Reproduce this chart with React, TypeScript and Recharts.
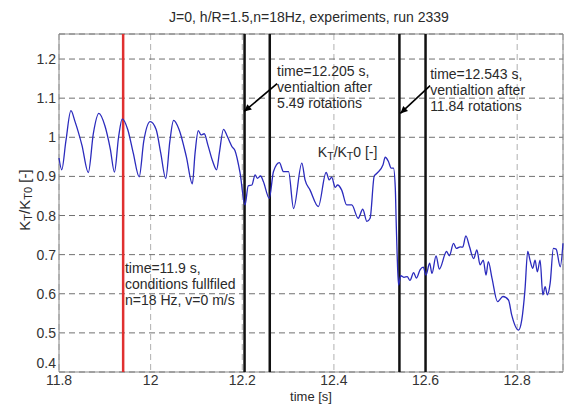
import React from 'react';
import { LineChart, Line, XAxis, YAxis, CartesianGrid, ReferenceLine, ReferenceArea, ReferenceDot, Customized } from 'recharts';

// ── KT/KT0 thrust ratio, run 2339

const TIME = [
  11.800, 11.806, 11.815, 11.826, 11.835, 11.850, 11.864, 11.875, 11.887, 11.900,
  11.912, 11.921, 11.930, 11.938, 11.950, 11.962, 11.975, 11.985, 11.999, 12.012,
  12.022, 12.033, 12.042, 12.050, 12.062, 12.078, 12.091, 12.097, 12.104, 12.110,
  12.117, 12.125, 12.135, 12.144, 12.150, 12.159, 12.166, 12.172, 12.177, 12.184,
  12.195, 12.206, 12.213, 12.221, 12.228, 12.233, 12.240, 12.246, 12.259, 12.268,
  12.281, 12.290, 12.301, 12.312, 12.330, 12.337, 12.348, 12.366, 12.383, 12.390,
  12.395, 12.403, 12.408, 12.417, 12.428, 12.439, 12.453, 12.463, 12.472, 12.479,
  12.488, 12.494, 12.507, 12.512, 12.519, 12.525, 12.530, 12.534, 12.536, 12.538,
  12.541, 12.546, 12.553, 12.560, 12.566, 12.574, 12.580, 12.588, 12.595, 12.601,
  12.609, 12.614, 12.623, 12.630, 12.646, 12.652, 12.661, 12.667, 12.676, 12.681,
  12.688, 12.696, 12.705, 12.712, 12.719, 12.726, 12.732, 12.737, 12.745, 12.757,
  12.769, 12.781, 12.788, 12.803, 12.810, 12.817, 12.823, 12.828, 12.834, 12.839,
  12.844, 12.850, 12.856, 12.861, 12.866, 12.872, 12.879, 12.885, 12.894, 12.900,
];

const KT = [
  0.947, 0.917, 0.990, 1.068, 1.040, 0.980, 0.910, 1.010, 1.061, 1.030,
  0.970, 0.911, 1.000, 1.047, 1.020, 0.960, 0.899, 0.990, 1.040, 1.020,
  0.960, 0.895, 0.990, 1.043, 1.020, 0.950, 0.881, 0.960, 1.017, 1.006,
  1.009, 0.980, 0.940, 0.917, 0.960, 1.020, 1.006, 0.990, 0.977, 0.966,
  0.910, 0.827, 0.876, 0.878, 0.904, 0.895, 0.901, 0.887, 0.844, 0.912,
  0.935, 0.912, 0.912, 0.818, 0.934, 0.891, 0.865, 0.823, 0.910, 0.891,
  0.898, 0.872, 0.878, 0.865, 0.827, 0.827, 0.793, 0.816, 0.785, 0.793,
  0.901, 0.908, 0.929, 0.949, 0.938, 0.921, 0.921, 0.870, 0.780, 0.700,
  0.622, 0.646, 0.642, 0.644, 0.634, 0.654, 0.640, 0.661, 0.668, 0.648,
  0.678, 0.652, 0.697, 0.663, 0.708, 0.697, 0.729, 0.716, 0.720, 0.719,
  0.748, 0.720, 0.690, 0.712, 0.674, 0.686, 0.648, 0.682, 0.640, 0.580,
  0.593, 0.584, 0.546, 0.507, 0.533, 0.610, 0.708, 0.686, 0.665, 0.686,
  0.656, 0.686, 0.597, 0.618, 0.597, 0.627, 0.716, 0.714, 0.669, 0.729,
];

const X_TICKS = [11.8, 12, 12.2, 12.4, 12.6, 12.8];
const Y_TICKS = [0.4, 0.5, 0.6, 0.7, 0.8, 0.9, 1, 1.1, 1.2];

const START_TIME = 11.94;
const EVENT_TIMES = [12.205, 12.26, 12.543, 12.6];

const NOTES = [
  { t: 12.276, v: 1.17, lines: ['time=12.205 s,', 'ventialtion after', '5.49 rotations'] },
  { t: 12.610, v: 1.162, lines: ['time=12.543 s,', 'ventialtion after', '11.84 rotations'] },
  { t: 11.944, v: 0.666, lines: ['time=11.9 s,', 'conditions fullfiled', 'n=18 Hz, v=0 m/s'] },
];

const ARROWS = [
  { from: { x: 12.276, y: 1.137 }, to: { x: 12.204, y: 1.066 } },
  { from: { x: 12.610, y: 1.132 }, to: { x: 12.545, y: 1.061 } },
];

const data = TIME.map((t, i) => ({ t, kt: KT[i] }));

const FONT = '"Liberation Sans", Arial, sans-serif';
const INK = '#2a2a2a';

const noteLabel = (lines: string[]) => (props: any) => {
  const { x, y } = props.viewBox;
  return (
    <text x={x} y={y} fontFamily={FONT} fontSize={14} fill={INK}>
      {lines.map((l, i) => (
        <tspan key={i} x={x} y={y + i * 16} dominantBaseline="central">{l}</tspan>
      ))}
    </text>
  );
};

const arrowShape = (props: any) => {
  const { x1, y1, x2, y2 } = props;
  const ang = Math.atan2(y2 - y1, x2 - x1);
  const len = 8, spread = 0.45;
  const p1 = [x2 - len * Math.cos(ang - spread), y2 - len * Math.sin(ang - spread)];
  const p2 = [x2 - len * Math.cos(ang + spread), y2 - len * Math.sin(ang + spread)];
  return (
    <g>
      <line x1={x1} y1={y1} x2={x2} y2={y2} stroke="#000" strokeWidth={1.6} />
      <polygon points={`${x2},${y2} ${p1[0]},${p1[1]} ${p2[0]},${p2[1]}`} fill="#000" />
    </g>
  );
};

// y tick: the bottom label sits a little higher so it clears 11.8
const YTick = (props: any) => {
  const { x, y, payload } = props;
  const lift = payload.value === 0.4 ? -9 : 0;
  return (
    <text x={x} y={y + lift} textAnchor="end" dominantBaseline="central" fontSize={14} fill="#333" fontFamily={FONT}>
      {payload.value}
    </text>
  );
};

const Texts = () => (
  <g fontFamily={FONT} fill={INK}>
    <text x={309} y={17} fontSize={14} textAnchor="middle" dominantBaseline="central">
      J=0, h/R=1.5,n=18Hz, experiments, run 2339
    </text>
    <text x={311} y={396} fontSize={13} textAnchor="middle" dominantBaseline="central">time [s]</text>
    <text transform="translate(24,200) rotate(-90)" fontSize={15} textAnchor="middle" dominantBaseline="central">
      K<tspan fontSize={11} dy={4}>T</tspan>
      <tspan dy={-4}>/K</tspan>
      <tspan fontSize={11} dy={4}>T0</tspan>
      <tspan dy={-4}> [-]</tspan>
    </text>
  </g>
);

const ktLabel = (props: any) => {
  const { x, y } = props.viewBox;
  return (
    <text x={x} y={y} fontFamily={FONT} fontSize={14} fill={INK} dominantBaseline="central">
      K<tspan fontSize={10.5} dy={4}>T</tspan>
      <tspan dy={-4}>/K</tspan>
      <tspan fontSize={10.5} dy={4}>T</tspan>
      <tspan dy={-4}>0 [-]</tspan>
    </text>
  );
};

export default function App() {
  return (
    <div style={{ position: 'absolute', left: 0, top: 0, background: '#fff' }}>
      <LineChart width={564} height={405} data={data} margin={{ top: 34, right: 1, left: 0, bottom: 0 }}>
        <CartesianGrid horizontal={false} stroke="#b0b0b0" strokeDasharray="6 4" />
        <CartesianGrid vertical={false} stroke="#707070" strokeDasharray="6 4" />
        <XAxis
          dataKey="t" type="number" domain={[11.8, 12.9]} ticks={X_TICKS}
          height={33} axisLine={false} tickLine={false} tickSize={0} tickMargin={3}
          tick={{ fontSize: 14, fill: '#333', fontFamily: FONT }}
        />
        <YAxis
          type="number" domain={[0.4, 1.264]} ticks={Y_TICKS} width={59}
          axisLine={false} tickLine={false} tickSize={0} tickMargin={3}
          tick={<YTick />}
        />
        <ReferenceArea x1={11.8} x2={12.9} y1={0.4} y2={1.264} fill="none" stroke="#888" strokeWidth={1} />
        <ReferenceLine x={START_TIME} stroke="#e03030" strokeWidth={2.5} />
        {EVENT_TIMES.map(t => (
          <ReferenceLine key={t} x={t} stroke="#111" strokeWidth={2.5} />
        ))}
        <Line dataKey="kt" type="monotone" stroke="#2b2bbd" strokeWidth={1.3} dot={false} isAnimationActive={false} />
        {ARROWS.map((a, i) => (
          <ReferenceLine key={i} segment={[a.from, a.to]} shape={arrowShape} ifOverflow="visible" />
        ))}
        {NOTES.map((n, i) => (
          <ReferenceDot key={i} x={n.t} y={n.v} r={0} stroke="none" fill="none" label={noteLabel(n.lines)} />
        ))}
        <ReferenceDot x={12.365} y={0.963} r={0} stroke="none" fill="none" label={ktLabel} />
        <Customized component={Texts} />
      </LineChart>
    </div>
  );
}
